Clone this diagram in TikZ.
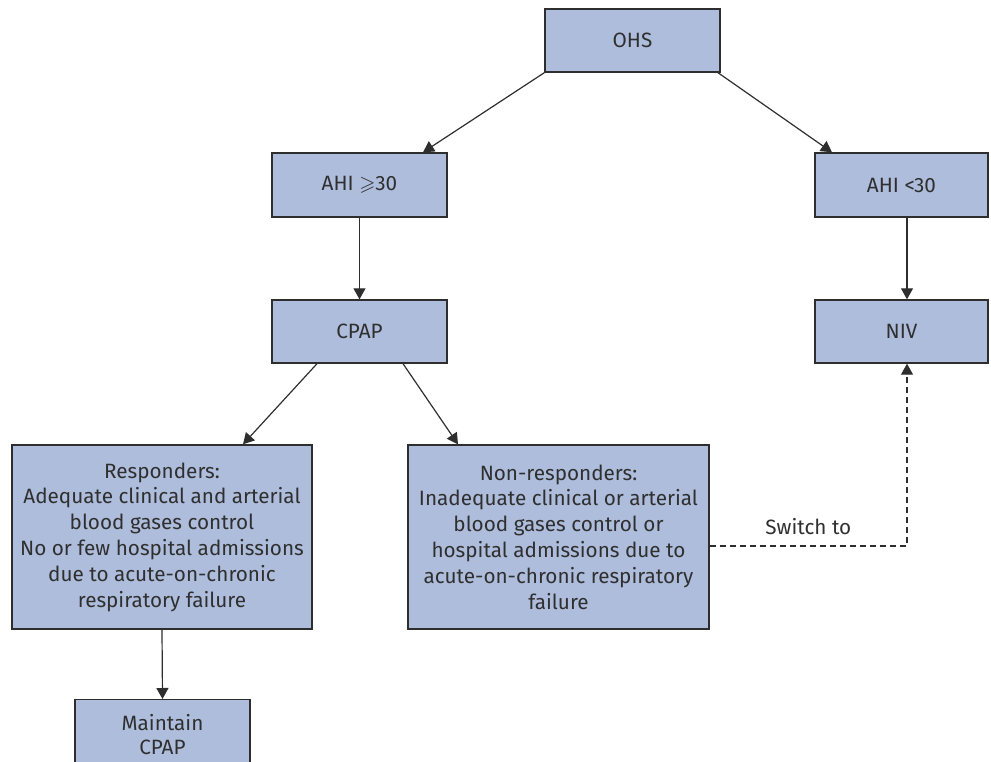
\documentclass[tikz,border=0pt]{standalone}
\usepackage{amssymb}
\usepackage{fontspec}
\setmainfont{Fira Sans}
\usetikzlibrary{arrows.meta}
\definecolor{boxfill}{HTML}{AEBDDC}
\definecolor{boxline}{HTML}{2E2E2E}
\definecolor{txt}{HTML}{2F2F2F}
\begin{document}
\begin{tikzpicture}[x=1pt,y=-1pt,
  box/.style={draw=boxline, line width=1.4pt, fill=boxfill, text=txt, align=center,
    inner sep=0pt, font=\fontsize{20.7}{25.8}\selectfont},
  conn/.style={draw=boxline, line width=1.2pt, -{Triangle[length=11pt,width=12pt]}},
  dashconn/.style={conn, dash pattern=on 6pt off 4pt},
  lbl/.style={text=txt, font=\fontsize{20.7}{25.8}\selectfont, inner sep=0pt, anchor=base}]
\useasboundingbox (0,0) rectangle (991,761);
\clip (0,0) rectangle (991,761);
\node[box, minimum width=175pt, minimum height=63pt] (ohs) at (632.5,40.5) {OHS};
\node[box, minimum width=175pt, minimum height=64pt] (ahi1) at (359.5,185) {AHI $\geqslant$30};
\node[box, minimum width=173pt, minimum height=64pt] (ahi2) at (901.5,185) {AHI <30};
\node[box, minimum width=175pt, minimum height=63pt] (cpap) at (359.5,331.5) {CPAP};
\node[box, minimum width=173pt, minimum height=63pt] (niv) at (901.5,331.5) {NIV};
\node[box, minimum width=300pt, minimum height=184pt] (resp) at (162,537)
  {Responders:\\Adequate clinical and arterial\\blood gases control\\No or few hospital admissions\\due to acute-on-chronic\\respiratory failure};
\node[box, minimum width=301pt, minimum height=184pt] (nonresp) at (558.5,537)
  {Non-responders:\\Inadequate clinical or arterial\\blood gases control or\\hospital admissions due to\\acute-on-chronic respiratory\\failure};
\node[box, minimum width=175pt, anchor=north, inner ysep=15pt, text depth=70pt,
  font=\fontsize{20.7}{23.5}\selectfont] (maint) at (162.5,699)
  {Maintain\\CPAP};
\draw[conn] (ohs.south west) -- ([xshift=63.5pt]ahi1.north);
\draw[conn] ([xshift=85.5pt]ohs.south) -- ([xshift=-69.5pt]ahi2.north);
\draw[conn] (ahi1.south) -- (cpap.north);
\draw[conn] ([xshift=5.5pt]ahi2.south) -- ([xshift=5.5pt]niv.north);
\draw[conn] ([xshift=-42.5pt]cpap.south) -- ([xshift=81pt]resp.north);
\draw[conn] ([xshift=43.5pt]cpap.south) -- ([xshift=-100.5pt]nonresp.north);
\draw[conn] (resp.south) -- (maint.north);
\draw[dashconn] ([yshift=-9pt]nonresp.east) -| ([xshift=5.5pt]niv.south)
  node[lbl, pos=0.25, yshift=12pt] (sw) {Switch to};
\end{tikzpicture}
\end{document}
